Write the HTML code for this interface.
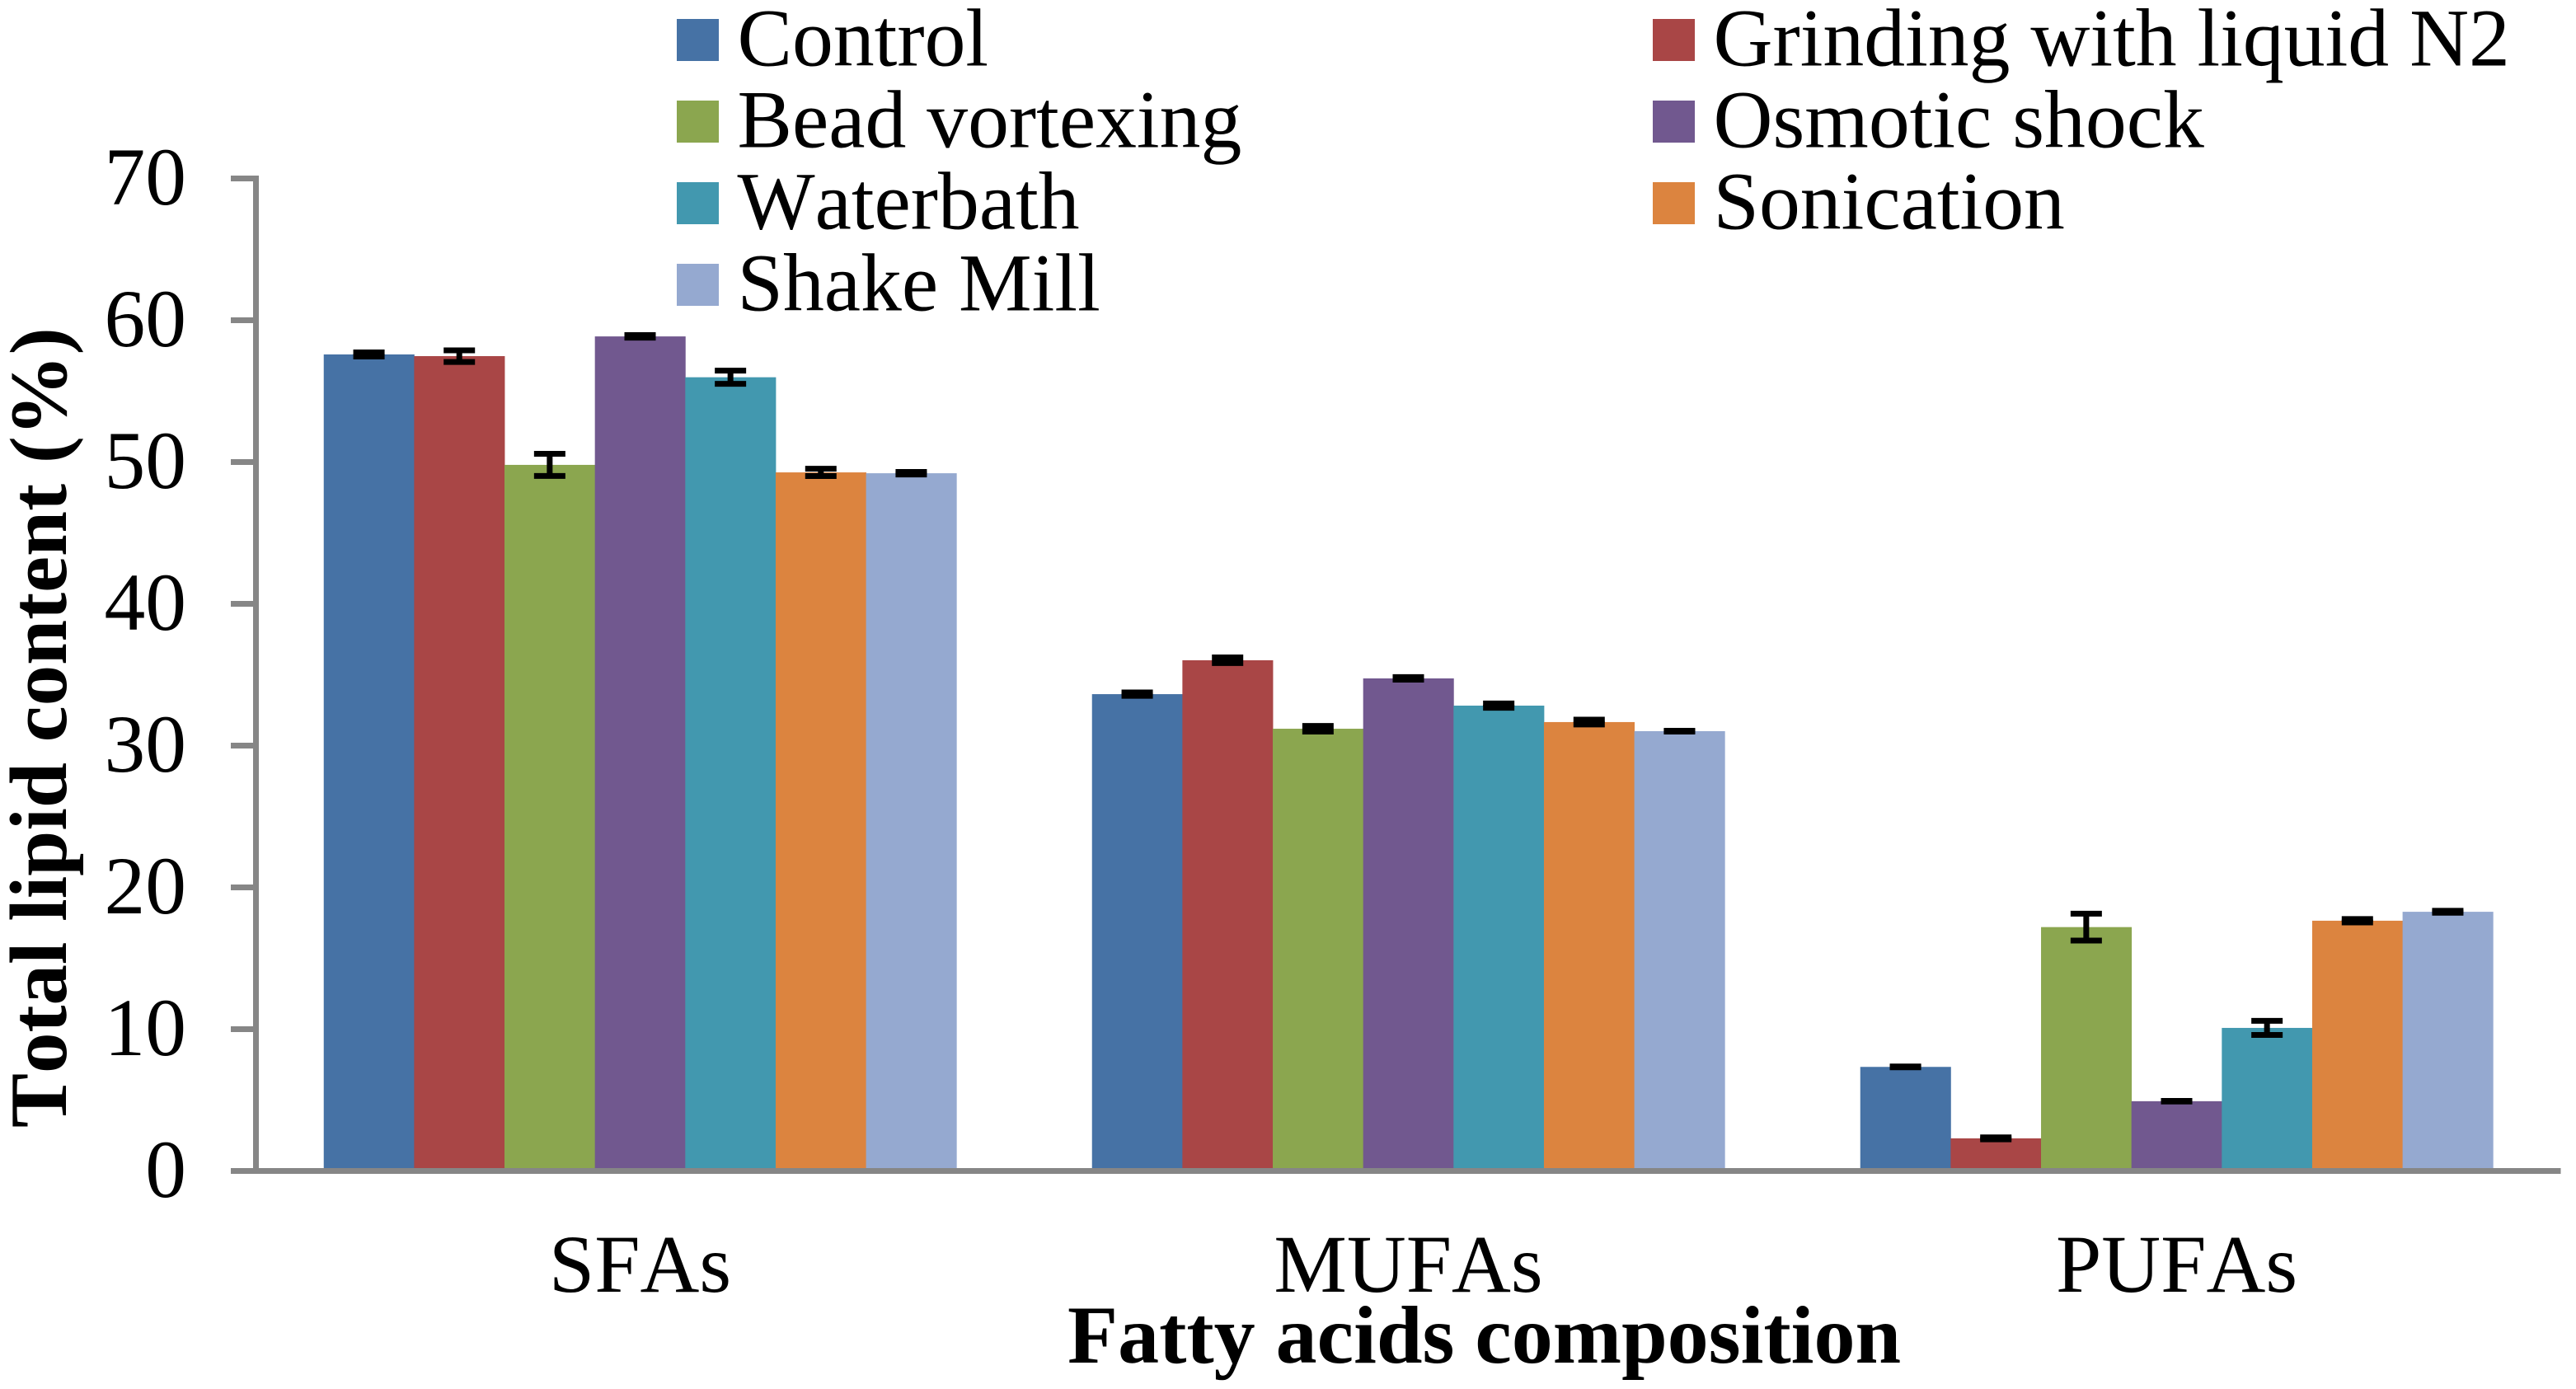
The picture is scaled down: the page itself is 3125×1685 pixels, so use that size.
<!DOCTYPE html>
<html lang="en">
<head>
<meta charset="utf-8">
<title>Fatty acids composition chart</title>
<style>
html,body{margin:0;padding:0;background:#fff;}
svg{display:block;}
text{font-family:"Liberation Serif","Times New Roman",serif;fill:#000;font-kerning:none;font-feature-settings:"kern" 0;}
</style>
</head>
<body>
<svg id="chart" xmlns="http://www.w3.org/2000/svg" width="3125" height="1685" viewBox="0 0 3125 1685">
  <rect x="0" y="0" width="3125" height="1685" fill="#ffffff"/>
  <g id="bars"></g>
  <g id="errors"></g>
  <g id="axes"></g>
  <g id="legend"></g>
  <text transform="translate(80,1368) rotate(-90)" font-size="99" font-weight="700">Total lipid content (%)</text>
  <text x="1295" y="1653" font-size="100" font-weight="700">Fatty acids composition</text>
</svg>
<script>
const categories = ["SFAs", "MUFAs", "PUFAs"];
const seriesNames = ["Control", "Grinding with liquid N2", "Bead vortexing", "Osmotic shock", "Waterbath", "Sonication", "Shake Mill"];
const yTicks = [0, 10, 20, 30, 40, 50, 60, 70];

const controlValues = [57.59, 33.63, 7.34];
const grindingValues = [57.47, 36.02, 2.3];
const beadValues = [49.8, 31.19, 17.2];
const osmoticValues = [58.86, 34.74, 4.92];
const waterbathValues = [55.98, 32.82, 10.09];
const sonicationValues = [49.27, 31.66, 17.65];
const shakeMillValues = [49.21, 31.02, 18.28];

const controlErrors = [0.145, 0.12, 0.03];
const grindingErrors = [0.41, 0.2, 0.07];
const beadErrors = [0.78, 0.2, 0.95];
const osmoticErrors = [0.09, 0.09, 0.02];
const waterbathErrors = [0.465, 0.15, 0.5];
const sonicationErrors = [0.26, 0.17, 0.12];
const shakeMillErrors = [0.09, 0.03, 0.07];

const seriesValues = [controlValues, grindingValues, beadValues, osmoticValues, waterbathValues, sonicationValues, shakeMillValues];
const seriesErrors = [controlErrors, grindingErrors, beadErrors, osmoticErrors, waterbathErrors, sonicationErrors, shakeMillErrors];
const palette = ["#4672A5", "#A94646", "#8BA64F", "#71588F", "#4298AF", "#DC843F", "#95A9D0"];

const SVG_NS = "http://www.w3.org/2000/svg";
const plotLeft = 310.5, plotRight = 3106.5, plotTop = 216.5, plotBottom = 1420.5;
const yMax = 70;
const axisColor = "#868686";
const gapRatio = 1.5;

function yScale(v) { return plotBottom - (v / yMax) * (plotBottom - plotTop); }
function categoryWidth() { return (plotRight - plotLeft) / categories.length; }
function barWidth() { return categoryWidth() / (seriesNames.length + gapRatio); }
function barX(c, s) { return plotLeft + c * categoryWidth() + barWidth() * gapRatio / 2 + s * barWidth(); }
function slug(t) { return t.toLowerCase().replace(/[^a-z0-9]+/g, "-"); }

function make(tag, attrs, parent, text) {
  const el = document.createElementNS(SVG_NS, tag);
  for (const k in attrs) el.setAttribute(k, attrs[k]);
  if (text !== undefined) el.textContent = text;
  parent.appendChild(el);
  return el;
}

const barsG = document.getElementById("bars");
const errorsG = document.getElementById("errors");
const axesG = document.getElementById("axes");
const legendG = document.getElementById("legend");

seriesNames.forEach(function (name, s) {
  categories.forEach(function (cat, c) {
    const v = seriesValues[s][c];
    const e = seriesErrors[s][c];
    const x = barX(c, s);
    const w = barWidth();
    const bar = make("rect", { x: x, y: yScale(v), width: w + 0.4, height: plotBottom - yScale(v), fill: palette[s] }, barsG);
    
    

    const cx = x + w / 2;
    const capHalf = 19;
    const hi = yScale(v + e), lo = yScale(v - e);
    const stem = make("line", { x1: cx, x2: cx, y1: hi, y2: lo, stroke: "#000", "stroke-width": 7 }, errorsG);
    
    
    const capTop = make("line", { x1: cx - capHalf, x2: cx + capHalf, y1: hi, y2: hi, stroke: "#000", "stroke-width": 7 }, errorsG);
    
    
    const capLow = make("line", { x1: cx - capHalf, x2: cx + capHalf, y1: lo, y2: lo, stroke: "#000", "stroke-width": 7 }, errorsG);
    
    
  });
});

const yAxisLine = make("line", { x1: plotLeft, x2: plotLeft, y1: plotTop - 3.5, y2: plotBottom, stroke: axisColor, "stroke-width": 7 }, axesG);


const xAxisLine = make("line", { x1: 280, x2: plotRight, y1: plotBottom, y2: plotBottom, stroke: axisColor, "stroke-width": 7 }, axesG);



yTicks.forEach(function (t) {
  const y = yScale(t);
  const mark = make("line", { x1: 280, x2: plotLeft, y1: y, y2: y, stroke: axisColor, "stroke-width": 7 }, axesG);
  
  
  const label = make("text", { x: 226, y: y + 31.5, "text-anchor": "end", "font-size": 99.5 }, axesG, String(t));
  
  
});

categories.forEach(function (cat, c) {
  const label = make("text", { x: plotLeft + (c + 0.5) * categoryWidth(), y: 1567, "text-anchor": "middle", "font-size": 99.5 }, axesG, cat);
  
  
});

seriesNames.forEach(function (name, s) {
  const col = s % 2, row = (s - col) / 2;
  const swatchX = col === 0 ? 821 : 2005;
  const swatchY = 23 + row * 99;
  const entry = make("g", {}, legendG);
  
  
  const swatch = make("rect", { x: swatchX, y: swatchY, width: 51, height: 51, fill: palette[s] }, entry);
  
  
  const label = make("text", { x: swatchX + 73.5, y: 79.7 + row * 99, "font-size": 99.7 }, entry, name);
  
  
});
</script>
</body>
</html>
